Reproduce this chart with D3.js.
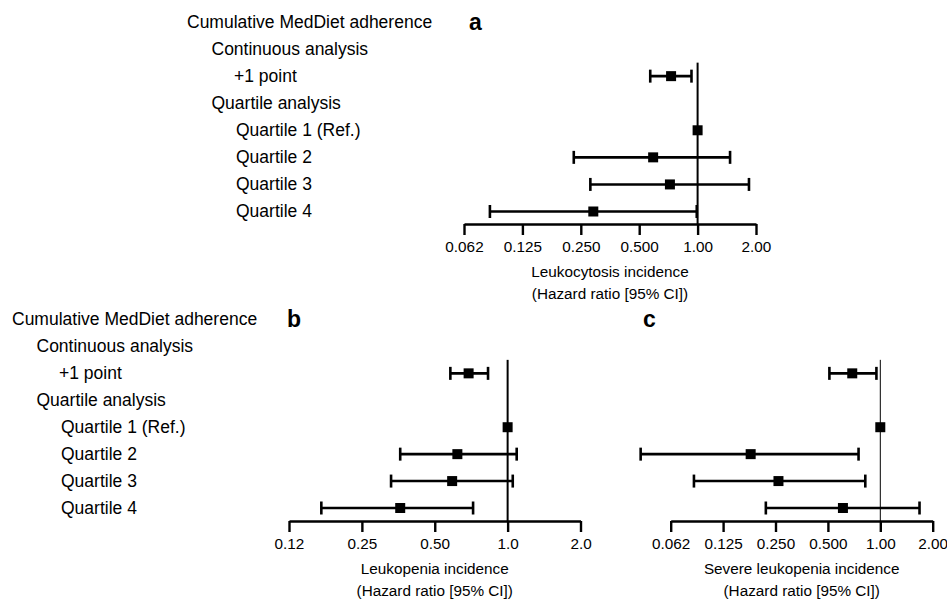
<!DOCTYPE html>
<html>
<head>
<meta charset="utf-8">
<script src="https://cdn.jsdelivr.net/npm/d3@7"></script>
<style>
    body { margin: 0; background: #fff; }
    svg text { font-family: "Liberation Sans", Arial, sans-serif; fill: #000; }
</style>
</head>
<body>
<div id="chart"></div>
<script>
// Row labels of the forest plots and their indent level
const rowLabels = ["Cumulative MedDiet adherence", "Continuous analysis", "+1 point",
                   "Quartile analysis", "Quartile 1 (Ref.)", "Quartile 2", "Quartile 3", "Quartile 4"];
const rowIndent = [0, 1, 2, 1, 2, 2, 2, 2];

// Rows that carry an estimate
const dataRows = ["+1 point", "Quartile 1 (Ref.)", "Quartile 2", "Quartile 3", "Quartile 4"];

// a: Leukocytosis incidence, hazard ratio [95% CI]
const leukocytosisHR = [0.73, 1.00, 0.59, 0.72, 0.29];
const leukocytosisLo = [0.57, null, 0.23, 0.28, 0.085];
const leukocytosisHi = [0.93, null, 1.47, 1.84, 0.99];

// b: Leukopenia incidence
const leukopeniaHR = [0.69, 1.00, 0.62, 0.59, 0.36];
const leukopeniaLo = [0.58, null, 0.36, 0.33, 0.17];
const leukopeniaHi = [0.83, null, 1.09, 1.05, 0.72];

// c: Severe leukopenia incidence
const severeHR = [0.69, 1.00, 0.18, 0.26, 0.61];
const severeLo = [0.51, null, 0.042, 0.085, 0.22];
const severeHi = [0.95, null, 0.75, 0.82, 1.68];

// x axis ticks
const ticksWide = [0.0625, 0.125, 0.25, 0.5, 1, 2];
const ticksWideLabels = ["0.062", "0.125", "0.250", "0.500", "1.00", "2.00"];
const ticksNarrow = [0.125, 0.25, 0.5, 1, 2];
const ticksNarrowLabels = ["0.12", "0.25", "0.50", "1.0", "2.0"];

function init() {
    const w = 947;
    const h = 601;

    const svg = d3.select("#chart")
        .append("svg")
        .attr("width", w)
        .attr("height", h);

    // Draw one forest panel
    function panel(opt) {
        const g = svg.append("g");

        const y = d3.scalePoint()
            .domain(rowLabels)
            .range([opt.rowTop, opt.rowBottom]);

        const x = d3.scaleLog()
            .base(2)
            .domain([opt.ticks[0], opt.ticks[opt.ticks.length - 1]])
            .range([opt.x0, opt.x1]);

        // Row labels (only on the panels that have them)
        if (opt.labelX !== null) {
            g.selectAll("text.row")
                .data(rowLabels)
                .enter()
                .append("text")
                .attr("class", "row")
                .attr("x", function(d, i) { return opt.labelX + rowIndent[i] * 24.5 - (i === 2 ? 2 : 0); })
                .attr("y", function(d) { return y(d); })
                .attr("dy", "0.34em")
                .attr("font-size", "17.5px")
                .text(function(d) { return d; });
        }

        // Panel letter
        g.append("text")
            .attr("x", opt.letterX)
            .attr("y", y(rowLabels[0]))
            .attr("dy", "0.34em")
            .attr("font-size", "23px")
            .attr("font-weight", "bold")
            .text(opt.letter);

        // Reference line at HR = 1
        g.append("line")
            .attr("x1", x(1)).attr("x2", x(1))
            .attr("y1", y("+1 point") - 13.5)
            .attr("y2", opt.axisY)
            .attr("stroke", "#000")
            .attr("stroke-width", opt.refWidth);

        // Axis
        const axis = d3.axisBottom(x)
            .tickValues(opt.ticks)
            .tickFormat(function(d, i) { return opt.tickLabels[i]; })
            .tickSizeInner(11)
            .tickSizeOuter(0)
            .tickPadding(6);

        const ax = g.append("g")
            .attr("transform", "translate(0," + opt.axisY + ")")
            .call(axis);
        ax.select(".domain").attr("stroke", "#000").attr("stroke-width", 2.4);
        ax.selectAll(".tick line").attr("stroke", "#000").attr("stroke-width", 2.4);
        ax.selectAll(".tick text")
            .attr("font-size", "15.3px")
            .attr("font-family", "Liberation Sans, Arial, sans-serif")
            .attr("fill", "#000");

        // Axis title
        const cx = (opt.x0 + opt.x1) / 2;
        g.append("text")
            .attr("x", cx)
            .attr("y", opt.axisY + 53)
            .attr("text-anchor", "middle")
            .attr("font-size", "15.3px")
            .text(opt.title);
        g.append("text")
            .attr("x", cx)
            .attr("y", opt.axisY + 75)
            .attr("text-anchor", "middle")
            .attr("font-size", "15.3px")
            .text("(Hazard ratio [95% CI])");

        // Estimates
        const rows = dataRows.map(function(r, i) {
            return { row: r, hr: opt.hr[i], lo: opt.lo[i], hi: opt.hi[i] };
        });
        const ci = rows.filter(function(d) { return d.lo !== null; });

        g.selectAll("line.ci")
            .data(ci)
            .enter()
            .append("line")
            .attr("class", "ci")
            .attr("x1", function(d) { return x(d.lo); })
            .attr("x2", function(d) { return x(d.hi); })
            .attr("y1", function(d) { return y(d.row); })
            .attr("y2", function(d) { return y(d.row); })
            .attr("stroke", "#000")
            .attr("stroke-width", 2.6);

        ["lo", "hi"].forEach(function(k) {
            g.selectAll("line.cap-" + k)
                .data(ci)
                .enter()
                .append("line")
                .attr("class", "cap-" + k)
                .attr("x1", function(d) { return x(d[k]); })
                .attr("x2", function(d) { return x(d[k]); })
                .attr("y1", function(d) { return y(d.row) - 6.5; })
                .attr("y2", function(d) { return y(d.row) + 6.5; })
                .attr("stroke", "#000")
                .attr("stroke-width", 2.6);
        });

        g.selectAll("rect.hr")
            .data(rows)
            .enter()
            .append("rect")
            .attr("class", "hr")
            .attr("x", function(d) { return x(d.hr) - 5; })
            .attr("y", function(d) { return y(d.row) - 5; })
            .attr("width", 10)
            .attr("height", 10)
            .attr("fill", "#000");
    }

    panel({
        letter: "a", letterX: 469, labelX: 187,
        rowTop: 22, rowBottom: 211.5, axisY: 224,
        x0: 464, x1: 756, ticks: ticksWide, tickLabels: ticksWideLabels,
        title: "Leukocytosis incidence", refWidth: 2,
        hr: leukocytosisHR, lo: leukocytosisLo, hi: leukocytosisHi
    });

    panel({
        letter: "b", letterX: 287, labelX: 12,
        rowTop: 319.5, rowBottom: 508, axisY: 521,
        x0: 289, x1: 580.5, ticks: ticksNarrow, tickLabels: ticksNarrowLabels,
        title: "Leukopenia incidence", refWidth: 2,
        hr: leukopeniaHR, lo: leukopeniaLo, hi: leukopeniaHi
    });

    panel({
        letter: "c", letterX: 643, labelX: null,
        rowTop: 319.5, rowBottom: 508, axisY: 521,
        x0: 670.7, x1: 932.7, ticks: ticksWide, tickLabels: ticksWideLabels,
        title: "Severe leukopenia incidence", refWidth: 1,
        hr: severeHR, lo: severeLo, hi: severeHi
    });
}

window.onload = init;
</script>
</body>
</html>
